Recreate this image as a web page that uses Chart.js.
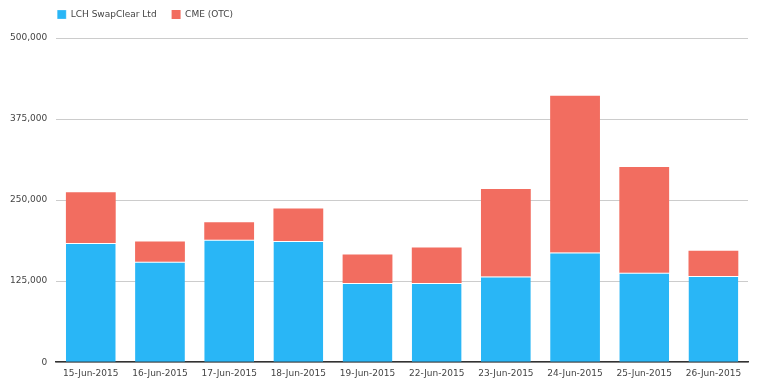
<!DOCTYPE html>
<html>
<head>
<meta charset="utf-8">
<script src="https://cdn.jsdelivr.net/npm/chart.js@4/dist/chart.umd.min.js"></script>
<style>
    html, body { margin: 0; padding: 0; background: #fff; }
    #wrap { width: 757px; height: 385px; }
</style>
</head>
<body>
<div id="wrap"><canvas id="volumeChart"></canvas></div>
<script>
// Dates de compensation
const days = ['15-Jun-2015', '16-Jun-2015', '17-Jun-2015', '18-Jun-2015', '19-Jun-2015',
    '22-Jun-2015', '23-Jun-2015', '24-Jun-2015', '25-Jun-2015', '26-Jun-2015'];

const lchValues = [184000, 155000, 189000, 187000, 122000, 122000, 132000, 169000, 138000, 133000];
const cmeValues = [78000, 31000, 27000, 50000, 44000, 55000, 135000, 242000, 163000, 39000];

const yTicks = [0, 125000, 250000, 375000, 500000];

const textColor = '#444';
const fontSpec = { family: '"DejaVu Sans", Verdana, sans-serif', size: 9 };
const legendPad = 15;

// Légende alignée sur la zone du graphique, hauteur fixe
const legendPlacer = {
    id: 'legendPlacer',
    beforeLayout(chart) {
        const legend = chart.legend;
        if (!legend || legend._patched) return;
        const origFit = legend.fit;
        legend.fit = function () {
            origFit.call(this);
            this.height = 38;
        };
        legend._patched = true;
    },
    afterLayout(chart) {
        const legend = chart.legend;
        if (!legend) return;
        const dx = chart.chartArea.left + 1 - legendPad - legend.left;
        legend.left += dx;
        legend.right += dx;
        legend.top -= 5;
        legend.bottom -= 5;
    }
};

const ctx = document.getElementById('volumeChart').getContext('2d');
new Chart(ctx, {
    type: 'bar',
    data: {
        labels: days,
        datasets: [{
            label: 'LCH SwapClear Ltd',
            data: lchValues,
            backgroundColor: '#29b6f6',
            borderColor: '#ffffff',
            borderWidth: { top: 1, left: 0, right: 0, bottom: 0 },
            borderSkipped: false
        }, {
            label: 'CME (OTC)',
            data: cmeValues,
            backgroundColor: '#f26d60',
            borderWidth: 0
        }]
    },
    options: {
        responsive: true,
        maintainAspectRatio: false,
        animation: false,
        layout: { padding: { left: 1, right: 9, top: 0, bottom: 0 } },
        plugins: {
            legend: {
                position: 'top',
                align: 'start',
                labels: {
                    boxWidth: 9,
                    boxHeight: 9,
                    padding: legendPad,
                    color: textColor,
                    font: fontSpec
                }
            },
            tooltip: { enabled: false }
        },
        scales: {
            x: {
                stacked: true,
                categoryPercentage: 1,
                barPercentage: 0.74,
                grid: { display: false, drawTicks: false },
                border: { display: true, color: '#333', width: 1.5 },
                ticks: { color: textColor, font: fontSpec, padding: 6, maxRotation: 0, autoSkip: false }
            },
            y: {
                stacked: true,
                min: 0,
                max: 500000,
                afterBuildTicks: (axis) => { axis.ticks = yTicks.map(v => ({ value: v })); },
                grid: { color: '#cccccc', lineWidth: 1, drawTicks: false },
                border: { display: false },
                ticks: {
                    color: textColor,
                    font: fontSpec,
                    padding: 9,
                    callback: (v) => v.toLocaleString('en-US')
                }
            }
        }
    },
    plugins: [legendPlacer]
});
</script>
</body>
</html>
